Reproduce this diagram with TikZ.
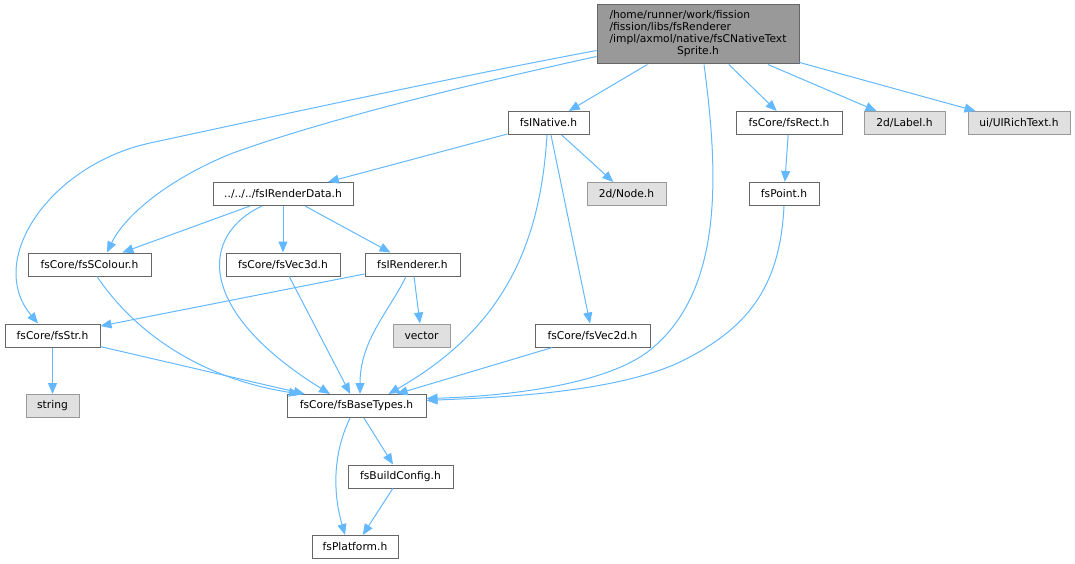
\documentclass[tikz,border=0pt]{standalone}
\usepackage{fontspec}
\setmainfont{DejaVu Sans}
\usetikzlibrary{arrows.meta}

\definecolor{depblue}{HTML}{63B8FF}
\definecolor{boxline}{HTML}{666666}
\definecolor{rootfill}{HTML}{999999}
\definecolor{sysfill}{HTML}{E0E0E0}
\definecolor{sysline}{HTML}{999999}

\begin{document}
\begin{tikzpicture}[x=1pt, y=-1pt,
    file/.style={draw=boxline, line width=1pt, fill=white, minimum height=23pt,
      inner sep=0pt, font=\fontsize{10.7}{12}\selectfont},
    rootfile/.style={file, fill=rootfill},
    sysfile/.style={file, draw=sysline, fill=sysfill},
    dep/.style={draw=depblue, line width=1pt, -{Triangle[length=11pt, width=9pt]}}]

      \useasboundingbox (0,0) rectangle (1075,564);

      % the file itself
      \node[rootfile, minimum width=202pt, minimum height=59pt] (root) at (698,34.5)
        {\begin{tabular}{@{}l@{}}
          /home/runner/work/fission\\
          /fission/libs/fsRenderer\\
          /impl/axmol/native/fsCNativeText\\
          \multicolumn{1}{@{}c@{}}{Sprite.h}
        \end{tabular}};

      % direct includes
      \node[file, minimum width=81pt] (native) at (548.5,123) {fsINative.h};
      \node[file, minimum width=106pt] (rect) at (789,123) {fsCore/fsRect.h};
      \node[sysfile, minimum width=81pt] (label) at (904.5,123) {2d/Label.h};
      \node[sysfile, minimum width=102pt] (rich) at (1019,123) {ui/UIRichText.h};

      \node[file, minimum width=140pt] (renderdata) at (283,194) {../../../fsIRenderData.h};
      \node[sysfile, minimum width=79pt] (cocosnode) at (626.5,194) {2d/Node.h};
      \node[file, minimum width=70pt] (point) at (784,194) {fsPoint.h};

      \node[file, minimum width=123pt] (colour) at (89.5,264.5) {fsCore/fsSColour.h};
      \node[file, minimum width=114pt] (vecthree) at (283,264.5) {fsCore/fsVec3d.h};
      \node[file, minimum width=95pt] (renderer) at (412.5,264.5) {fsIRenderer.h};

      \node[file, minimum width=95pt] (str) at (52.5,335.5) {fsCore/fsStr.h};
      \node[sysfile, minimum width=57pt] (vector) at (421.5,335.5) {vector};
      \node[file, minimum width=115pt] (vectwo) at (592.5,335.5) {fsCore/fsVec2d.h};

      \node[sysfile, minimum width=53pt] (string) at (52.5,406) {string};
      \node[file, minimum width=139pt] (basetypes) at (356.5,406) {fsCore/fsBaseTypes.h};

      \node[file, minimum width=105pt] (buildconfig) at (400.5,476.5) {fsBuildConfig.h};
      \node[file, minimum width=86pt] (platform) at (355,547) {fsPlatform.h};

      % straight includes
      \draw (root) edge[dep] (native) edge[dep] (rect) edge[dep] (label) edge[dep] (rich);
      \draw (native) edge[dep] (renderdata) edge[dep] (cocosnode) edge[dep] (vectwo);
      \draw (rect) edge[dep] (point);
      \draw (renderdata) edge[dep] (colour) edge[dep] (vecthree) edge[dep] (renderer);
      \draw (renderer) edge[dep] (str) edge[dep] (vector);
      \draw (vecthree) edge[dep] (basetypes);
      \draw (vectwo) edge[dep] (basetypes);
      \draw (str) edge[dep] (string) edge[dep] (basetypes);
      \draw (basetypes) edge[dep] (buildconfig);
      \draw (buildconfig) edge[dep] (platform);

      % curved includes
      \draw[dep] ([yshift=14pt]root.south west) .. controls (450,78) and (280,115) .. (150,143)
        .. controls (50,165) and (-15,260) .. ([xshift=-14.5pt]str.north);
      \draw[dep] ([yshift=8pt]root.south west) .. controls (480,82) and (330,118) .. (233,153)
        .. controls (170,178) and (125,215) .. ([xshift=17.5pt]colour.north);
      \draw[dep] ([xshift=6pt]root.south) .. controls (718,170) and (725,290) .. (650,350)
        .. controls (600,390) and (480,397) .. ([yshift=7.5pt]basetypes.east);
      \draw[dep] (point.south) .. controls (780,290) and (745,330) .. (680,362)
        .. controls (610,395) and (480,398) .. ([yshift=5.5pt]basetypes.east);
      \draw[dep] ([xshift=-1.5pt]native.south) .. controls (540,250) and (500,330)
        .. ([xshift=32pt]basetypes.north);
      \draw[dep] ([xshift=-21pt]renderdata.south) .. controls (200,235) and (195,310)
        .. ([xshift=-26.5pt]basetypes.north);
      \draw[dep] ([xshift=7.5pt]colour.south) .. controls (140,340) and (210,380)
        .. ([xshift=-56.5pt]basetypes.north);
      \draw[dep] ([xshift=-6.5pt]renderer.south) .. controls (390,310) and (360,340)
        .. ([xshift=3.5pt]basetypes.north);
      \draw[dep] ([xshift=-6.5pt]basetypes.south) .. controls (330,460) and (335,500)
        .. ([xshift=-10pt]platform.north);

    \end{tikzpicture}
\end{document}
